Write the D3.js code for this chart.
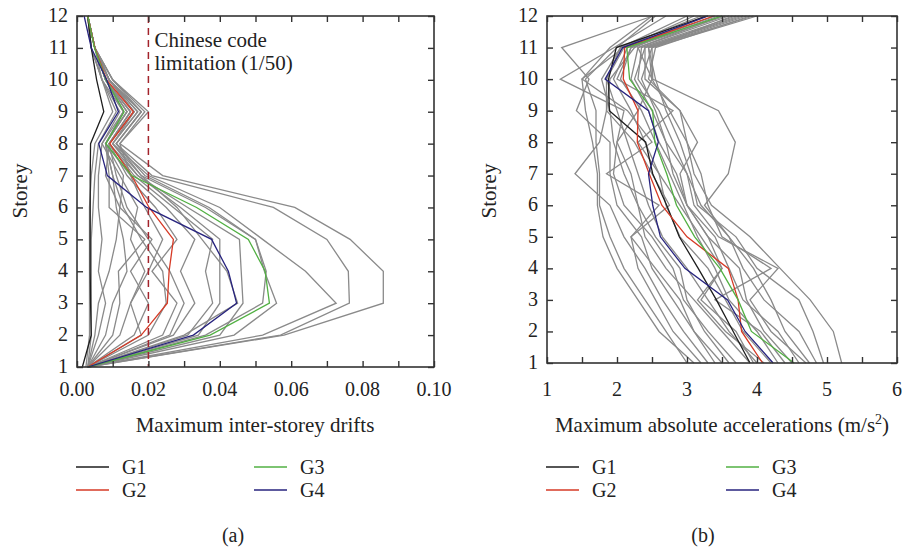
<!DOCTYPE html>
<html>
<head>
<meta charset="utf-8">
<script src="https://cdn.jsdelivr.net/npm/d3@7"></script>
<style>
  body { margin: 0; background: #fff; }
  text { font-family: "Liberation Serif", "DejaVu Serif", serif; fill: #222; }
</style>
</head>
<body>
<div id="fig"></div>
<script>
// storeys 1..12
const storeys = [1, 2, 3, 4, 5, 6, 7, 8, 9, 10, 11, 12];
const groups = ["G1", "G2", "G3", "G4"];

// (a) maximum inter-storey drifts, group means
const driftG1 = [0.0015, 0.004, 0.0038, 0.0037, 0.0037, 0.0037, 0.0037, 0.0038, 0.0075, 0.0055, 0.004, 0.003];
const driftG2 = [0.003, 0.018, 0.0253, 0.0258, 0.027, 0.0202, 0.0153, 0.0092, 0.0158, 0.0083, 0.005, 0.003];
const driftG3 = [0.003, 0.0373, 0.0539, 0.0527, 0.048, 0.0335, 0.0153, 0.0081, 0.0132, 0.0081, 0.0049, 0.003];
const driftG4 = [0.003, 0.0326, 0.0447, 0.0424, 0.0377, 0.0195, 0.0085, 0.0061, 0.0116, 0.0083, 0.004, 0.002];

// (a) individual records (grey)
const driftRecords = [
  [0.003, 0.058, 0.0858, 0.0858, 0.0765, 0.061, 0.024, 0.012, 0.019, 0.010, 0.005, 0.003],
  [0.003, 0.057, 0.0763, 0.076, 0.070, 0.055, 0.021, 0.011, 0.018, 0.010, 0.005, 0.003],
  [0.003, 0.052, 0.0726, 0.064, 0.052, 0.040, 0.020, 0.010, 0.017, 0.009, 0.005, 0.003],
  [0.003, 0.044, 0.0559, 0.0525, 0.050, 0.036, 0.018, 0.011, 0.018, 0.009, 0.005, 0.003],
  [0.003, 0.040, 0.0465, 0.046, 0.0455, 0.031, 0.017, 0.009, 0.016, 0.009, 0.005, 0.003],
  [0.003, 0.034, 0.040, 0.040, 0.040, 0.029, 0.017, 0.010, 0.017, 0.009, 0.005, 0.003],
  [0.003, 0.031, 0.038, 0.036, 0.038, 0.027, 0.016, 0.009, 0.015, 0.008, 0.005, 0.003],
  [0.003, 0.027, 0.033, 0.029, 0.033, 0.025, 0.015, 0.008, 0.014, 0.008, 0.005, 0.003],
  [0.003, 0.024, 0.028, 0.021, 0.028, 0.022, 0.014, 0.009, 0.015, 0.008, 0.005, 0.003],
  [0.003, 0.016, 0.020, 0.015, 0.021, 0.012, 0.013, 0.008, 0.013, 0.007, 0.004, 0.003],
  [0.003, 0.012, 0.015, 0.019, 0.015, 0.017, 0.012, 0.007, 0.012, 0.007, 0.004, 0.003],
  [0.003, 0.010, 0.012, 0.0116, 0.019, 0.009, 0.009, 0.008, 0.014, 0.008, 0.005, 0.003],
  [0.003, 0.006, 0.008, 0.006, 0.007, 0.006, 0.006, 0.007, 0.013, 0.008, 0.005, 0.003],
  [0.003, 0.004, 0.004, 0.004, 0.004, 0.0045, 0.005, 0.006, 0.011, 0.007, 0.005, 0.003],
  [0.0025, 0.0035, 0.0035, 0.0035, 0.0035, 0.0035, 0.004, 0.005, 0.010, 0.007, 0.004, 0.003],
  [0.003, 0.030, 0.045, 0.042, 0.035, 0.028, 0.018, 0.010, 0.016, 0.009, 0.005, 0.003],
  [0.003, 0.026, 0.030, 0.026, 0.020, 0.014, 0.011, 0.009, 0.015, 0.008, 0.005, 0.003],
  [0.003, 0.020, 0.025, 0.024, 0.018, 0.013, 0.010, 0.008, 0.014, 0.008, 0.005, 0.003],
  [0.003, 0.018, 0.015, 0.020, 0.024, 0.019, 0.015, 0.012, 0.020, 0.010, 0.005, 0.003],
  [0.003, 0.036, 0.052, 0.053, 0.050, 0.037, 0.019, 0.011, 0.018, 0.009, 0.005, 0.003],
  [0.003, 0.008, 0.010, 0.014, 0.013, 0.011, 0.010, 0.008, 0.013, 0.008, 0.005, 0.003],
  [0.003, 0.005, 0.006, 0.009, 0.011, 0.012, 0.008, 0.009, 0.016, 0.009, 0.005, 0.003]
];

// (b) maximum absolute accelerations (m/s2), group means
const accG1 = [3.9, 3.66, 3.42, 3.16, 2.89, 2.71, 2.51, 2.41, 1.89, 1.88, 1.99, 3.28];
const accG2 = [4.08, 3.78, 3.73, 3.59, 3.0, 2.64, 2.46, 2.29, 2.30, 2.09, 2.11, 3.38];
const accG3 = [4.53, 3.92, 3.73, 3.47, 3.11, 2.85, 2.71, 2.54, 2.51, 2.18, 2.14, 3.50];
const accG4 = [4.23, 3.83, 3.58, 2.97, 2.62, 2.51, 2.45, 2.59, 2.45, 1.83, 2.08, 3.30];

// (b) individual records (grey)
const accRecords = [
  [3.0, 2.7, 2.4, 2.1, 1.9, 1.75, 1.75, 1.7, 1.7, 1.55, 2.0, 2.55],
  [3.1, 2.6, 2.3, 2.0, 1.8, 1.72, 1.72, 1.65, 1.55, 1.5, 1.9, 2.5],
  [3.3, 2.95, 2.65, 2.4, 2.1, 1.9, 1.4, 1.75, 1.85, 1.85, 2.05, 3.0],
  [3.5, 3.1, 2.8, 2.5, 2.35, 2.0, 1.9, 1.9, 1.42, 1.6, 1.21, 2.51],
  [3.7, 3.3, 2.95, 2.8, 2.5, 2.1, 1.95, 2.0, 2.1, 1.19, 1.96, 2.7],
  [3.9, 3.5, 3.1, 2.7, 2.4, 2.3, 2.1, 1.95, 1.9, 1.78, 2.05, 3.2],
  [4.0, 3.6, 3.3, 3.0, 2.65, 2.45, 2.3, 2.15, 2.0, 1.85, 2.1, 3.3],
  [4.2, 3.8, 3.55, 3.3, 2.9, 2.7, 2.6, 2.4, 2.2, 1.95, 2.15, 3.4],
  [4.3, 4.0, 3.6, 3.4, 3.15, 2.95, 2.75, 2.55, 2.35, 2.05, 2.2, 3.55],
  [4.5, 4.1, 3.85, 3.75, 3.3, 3.0, 2.85, 2.6, 2.45, 2.2, 2.3, 3.6],
  [4.7, 4.2, 3.9, 4.3, 3.45, 3.1, 3.0, 2.8, 2.6, 2.3, 2.35, 3.7],
  [5.21, 5.09, 4.76, 4.33, 3.9, 3.35, 3.1, 3.0, 2.75, 2.5, 2.45, 3.85],
  [4.85, 4.6, 4.1, 3.8, 3.6, 3.25, 3.59, 3.69, 3.45, 2.51, 2.5, 4.0],
  [4.4, 4.05, 3.4, 4.2, 3.5, 3.3, 3.2, 3.0, 2.9, 2.4, 2.4, 3.75],
  [3.95, 3.7, 3.2, 3.5, 3.3, 3.0, 2.8, 2.7, 2.55, 2.35, 2.5, 3.65],
  [4.6, 4.3, 3.8, 3.6, 3.4, 3.0, 2.9, 3.15, 2.9, 2.45, 2.55, 3.9],
  [3.6, 3.25, 3.0, 2.9, 2.55, 2.3, 2.2, 2.0, 2.3, 2.5, 2.3, 3.5],
  [4.1, 3.55, 3.15, 3.5, 3.2, 2.9, 2.6, 2.3, 2.8, 2.0, 2.2, 3.45],
  [3.4, 3.1, 2.9, 2.55, 2.2, 2.75, 2.5, 2.25, 1.85, 1.9, 2.25, 3.25],
  [4.95, 4.8, 4.6, 4.0, 3.7, 3.15, 3.05, 2.9, 2.7, 2.55, 2.45, 3.95],
  [3.2, 2.8, 2.55, 2.3, 2.2, 2.6, 1.85, 2.5, 2.15, 1.5, 2.1, 3.1],
  [4.75, 4.4, 4.2, 3.95, 3.6, 3.2, 3.0, 2.7, 2.5, 2.25, 2.4, 3.8]
];

const driftTicks = [0, 0.02, 0.04, 0.06, 0.08, 0.10];
const accTicks = [1, 2, 3, 4, 5, 6];
const codeLimit = 0.02;

const groupColors = ["#1e1e1e", "#d63a26", "#52b043", "#27237e"];
const greyColor = "#8a8a8a";

const svg = d3.select("#fig")
  .append("svg")
  .attr("width", 902)
  .attr("height", 552);

function drawPanel(opts) {
  const x = d3.scaleLinear().domain(opts.xDomain).range([opts.left, opts.right]);
  const y = d3.scaleLinear().domain([1, 12]).range([opts.bottom, opts.top]);
  const g = svg.append("g");

  const line = d3.line()
    .x(d => x(d[0]))
    .y(d => y(d[1]));

  // grey records
  opts.records.forEach(r => {
    g.append("path")
      .datum(r.map((v, i) => [v, storeys[i]]))
      .attr("d", line)
      .attr("fill", "none")
      .attr("stroke", greyColor)
      .attr("stroke-width", 1.3);
  });

  // group means
  opts.means.forEach((m, k) => {
    g.append("path")
      .datum(m.map((v, i) => [v, storeys[i]]))
      .attr("d", line)
      .attr("fill", "none")
      .attr("stroke", groupColors[k])
      .attr("stroke-width", 1.3);
  });

  if (opts.limit !== undefined) {
    g.append("line")
      .attr("x1", x(opts.limit))
      .attr("x2", x(opts.limit))
      .attr("y1", y(12))
      .attr("y2", y(1))
      .attr("stroke", "#a3232b")
      .attr("stroke-width", 1.5)
      .attr("stroke-dasharray", "7,5");
    g.append("text")
      .attr("x", x(opts.limit) + 6)
      .attr("y", 47)
      .style("font-size", "21px")
      .text("Chinese code");
    g.append("text")
      .attr("x", x(opts.limit) + 6)
      .attr("y", 70)
      .style("font-size", "21px")
      .text("limitation (1/50)");
  }

  // axes with inward ticks on all four sides
  const tl = 6;
  g.append("g")
    .attr("transform", `translate(0,${opts.bottom})`)
    .call(d3.axisBottom(x).tickValues(opts.minor).tickSize(-tl).tickFormat(""));
  g.append("g")
    .attr("transform", `translate(0,${opts.top})`)
    .call(d3.axisTop(x).tickValues(opts.minor).tickSize(-tl).tickFormat(""));
  g.append("g")
    .attr("transform", `translate(${opts.left},0)`)
    .call(d3.axisLeft(y).tickValues(storeys).tickSize(-tl).tickFormat(""));
  g.append("g")
    .attr("transform", `translate(${opts.right},0)`)
    .call(d3.axisRight(y).tickValues(storeys).tickSize(-tl).tickFormat(""));
  g.selectAll(".domain").remove();
  g.selectAll(".tick line").attr("stroke", "#333").attr("stroke-width", 1.4);

  g.append("rect")
    .attr("x", opts.left)
    .attr("y", opts.top)
    .attr("width", opts.right - opts.left)
    .attr("height", opts.bottom - opts.top)
    .attr("fill", "none")
    .attr("stroke", "#333")
    .attr("stroke-width", 1.6);

  // tick labels
  g.selectAll(".ylab")
    .data(storeys)
    .enter()
    .append("text")
    .attr("x", opts.left - 9)
    .attr("y", d => y(d) + 6)
    .attr("text-anchor", "end")
    .style("font-size", "20px")
    .text(d => d);

  g.selectAll(".xlab")
    .data(opts.ticks)
    .enter()
    .append("text")
    .attr("x", d => x(d))
    .attr("y", 396)
    .attr("text-anchor", "middle")
    .style("font-size", "20px")
    .text(opts.fmt);

  g.append("text")
    .attr("transform", `translate(${opts.storeyX},191) rotate(-90)`)
    .attr("text-anchor", "middle")
    .attr("dy", "0.35em")
    .style("font-size", "21px")
    .text("Storey");

  const title = g.append("text")
    .attr("x", opts.titleX)
    .attr("y", 432)
    .attr("text-anchor", "middle")
    .style("font-size", "21px");
  opts.title(title);

  // legend, two columns
  groups.forEach((name, k) => {
    const row = (k === 0 || k === 2) ? 467 : 490;
    const col = (k < 2) ? 0 : 1;
    const px = opts.legendX + col * opts.legendGap;
    g.append("line")
      .attr("x1", px)
      .attr("x2", px + 33)
      .attr("y1", row)
      .attr("y2", row)
      .attr("stroke", groupColors[k])
      .attr("stroke-width", 1.6);
    g.append("text")
      .attr("x", px + 46)
      .attr("y", row + 7)
      .style("font-size", "20px")
      .text(name);
  });

  g.append("text")
    .attr("x", opts.capX)
    .attr("y", 542)
    .attr("text-anchor", "middle")
    .style("font-size", "20px")
    .text(opts.caption);
}

drawPanel({
  xDomain: [0, 0.10], left: 77, right: 434, top: 16, bottom: 367,
  records: driftRecords,
  means: [driftG1, driftG2, driftG3, driftG4],
  limit: codeLimit,
  minor: d3.range(0, 0.1001, 0.01),
  ticks: driftTicks,
  fmt: d => d3.format(".2f")(d),
  storeyX: 20,
  titleX: 255,
  title: t => t.text("Maximum inter-storey drifts"),
  legendX: 76, legendGap: 178,
  capX: 233, caption: "(a)"
});

drawPanel({
  xDomain: [1, 6], left: 547, right: 897, top: 16, bottom: 363,
  records: accRecords,
  means: [accG1, accG2, accG3, accG4],
  minor: d3.range(1, 6.001, 0.5),
  ticks: accTicks,
  fmt: d => d,
  storeyX: 489,
  titleX: 722,
  title: t => {
    t.append("tspan").text("Maximum absolute accelerations (m/s");
    t.append("tspan").attr("dy", -8).style("font-size", "14px").text("2");
    t.append("tspan").attr("dy", 8).text(")");
  },
  legendX: 546, legendGap: 180,
  capX: 703, caption: "(b)"
});
</script>
</body>
</html>
